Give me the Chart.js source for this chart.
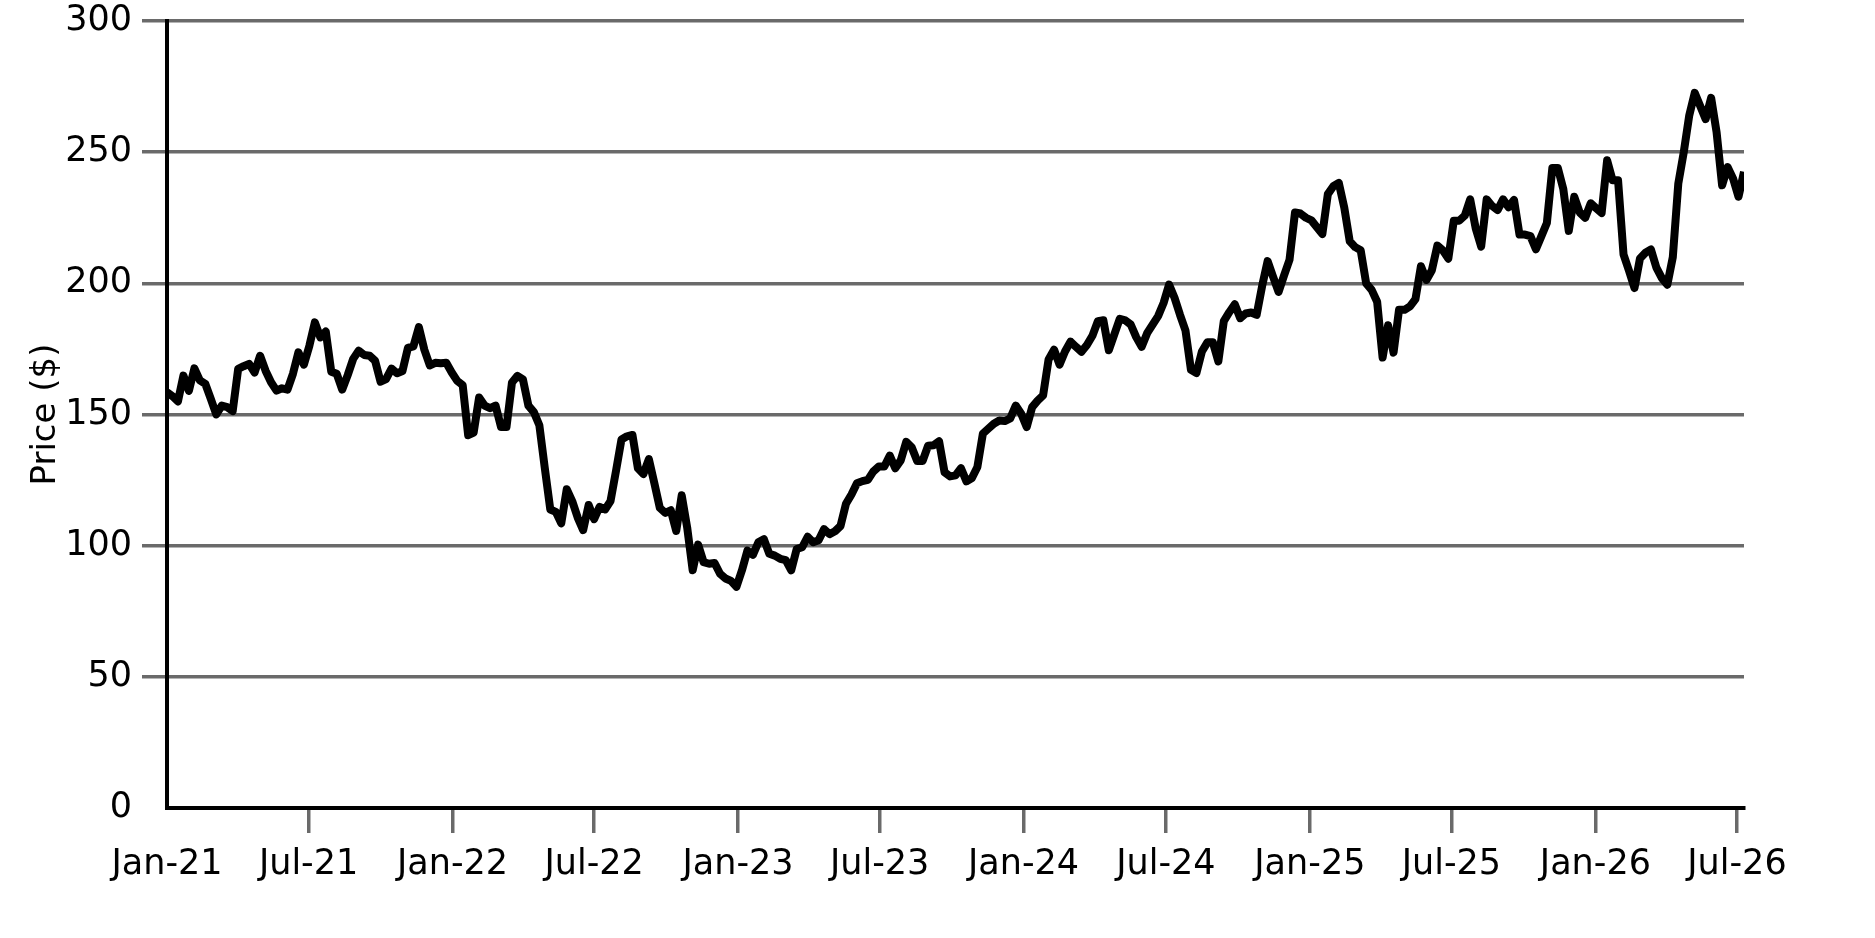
<!DOCTYPE html>
<html>
<head>
<meta charset="utf-8">
<title>Price</title>
<script src="https://cdn.jsdelivr.net/npm/chart.js@4.4.1/dist/chart.umd.min.js"></script>
<style>
  html, body { margin: 0; padding: 0; background: #fff; }
  #wrap { width: 1875px; height: 938px; }
</style>
</head>
<body>
<div id="wrap"><canvas id="priceChart"></canvas></div>
<script>
const START_DATE = '2021-01-01';
const STEP_DAYS = 7;

// weekly price, one value per week from START_DATE
const prices = [
    158.5, 157, 155, 164.8, 159, 167.6, 163, 161.7, 156, 150,
    153.4, 152.8, 151.3, 167.4, 168.4, 169.3, 166, 172.4, 166.7, 162.3,
    159.1, 160, 159.5, 165.5, 173.7, 169, 176.2, 185.1, 179.4, 181.6,
    166.3, 165.5, 159.5, 165, 171.2, 174.3, 172.7, 172.4, 170.5, 162.5,
    163.5, 167.5, 165.7, 166.6, 175.4, 176, 183.3, 174.7, 168.7, 169.7,
    169.5, 169.7, 166, 162.8, 161.2, 142.1, 143.1, 156.5, 153.4, 152.4,
    153.4, 145.2, 145.2, 162.2, 164.7, 163.4, 153.4, 150.9, 145.9, 129.5,
    113.8, 112.9, 108.5, 121.5, 117, 110.7, 105.9, 115.5, 110.1, 114.8,
    113.8, 117, 128.5, 140.5, 141.7, 142.2, 129.5, 127.3, 133, 123.8,
    114.4, 112.5, 113.5, 105.6, 119.2, 106.9, 90.6, 100.4, 93.7, 93.1,
    93.4, 89.3, 87.5, 86.6, 84.3, 90.6, 98.1, 96.5, 101.3, 102.5,
    96.9, 96.2, 95, 94.5, 90.6, 98.7, 99.4, 103.4, 101.3, 102.1,
    106.3, 104.4, 105.5, 107.5, 116, 119.5, 123.8, 124.6, 125.1, 128.3,
    130.2, 130.2, 134.3, 129.5, 132.5, 139.6, 137.5, 132.3, 132.3, 138.1,
    138.3, 139.8, 128, 126.4, 126.8, 129.5, 124.5, 125.8, 130, 142.7,
    144.6, 146.5, 147.7, 147.5, 148.5, 153.4, 150.3, 145.2, 152.8, 155.3,
    157.3, 171, 174.7, 169, 174, 177.8, 175.8, 173.9, 176.5, 180,
    185.6, 185.9, 174.5, 180.5, 186.5, 185.9, 184.3, 179.5, 175.8, 181,
    184.3, 187.5, 192.5, 199.5, 194.5, 188, 182, 167, 165.8, 174,
    177.5, 177.5, 170.2, 185.6, 189, 192, 186.7, 188.5, 188.9, 188,
    199, 208.5, 202.5, 196.7, 203, 209, 227, 226.6, 225, 224,
    221.4, 218.8, 234, 237, 238.3, 228.9, 216, 213.8, 212.6, 200,
    197.5, 193, 171.7, 184, 173.6, 189.9, 189.9, 191.2, 194, 206.5,
    201.3, 205, 214.4, 212.6, 209.4, 223.9, 223.9, 225.8, 232, 221,
    214, 232, 229.5, 227.9, 232, 229, 231.8, 218.6, 218.6, 218,
    213, 218, 223, 244, 244, 236, 220, 233, 227, 225,
    230.5, 228.6, 226.8, 246.9, 239.3, 239.3, 211, 204.8, 198.2, 209.5,
    211.7, 212.9, 206, 202, 199.5, 210, 238, 250, 264, 272.6,
    267.6, 262.6, 270.7, 257.5, 237.4, 244.3, 240, 233, 242.5
];

const tickDates = [
    '2021-01-01', '2021-07-01', '2022-01-01', '2022-07-01', '2023-01-01', '2023-07-01',
    '2024-01-01', '2024-07-01', '2025-01-01', '2025-07-01', '2026-01-01', '2026-07-01'
];
const tickLabels = [
    'Jan-21', 'Jul-21', 'Jan-22', 'Jul-22', 'Jan-23', 'Jul-23',
    'Jan-24', 'Jul-24', 'Jan-25', 'Jul-25', 'Jan-26', 'Jul-26'
];
const yMin = 0;
const yMax = 300;
const yStep = 50;

const DAY_MS = 86400000;
const t0 = Date.parse(START_DATE);
const daysFromStart = d => (Date.parse(d) - t0) / DAY_MS;

const points = prices.map((p, i) => ({ x: i * STEP_DAYS, y: p }));
const tickDays = tickDates.map(daysFromStart);
const lastDay = points[points.length - 1].x;

const GRID = '#6a6a6a';
const CLEAR = 'rgba(0,0,0,0)';

Chart.defaults.font.family = '"DejaVu Sans", sans-serif';
Chart.defaults.color = '#000';

const ctx = document.getElementById('priceChart').getContext('2d');
const priceChart = new Chart(ctx, {
    type: 'line',
    data: {
        datasets: [{
            label: 'Price',
            data: points,
            borderColor: '#000',
            borderWidth: 8,
            borderJoinStyle: 'round',
            pointRadius: 0,
            fill: false,
            tension: 0
        }]
    },
    options: {
        animation: false,
        responsive: true,
        maintainAspectRatio: false,
        devicePixelRatio: 1,
        layout: { padding: { left: 26, right: 131, top: 21, bottom: 0 } },
        plugins: {
            legend: { display: false },
            tooltip: { enabled: false }
        },
        scales: {
            x: {
                type: 'linear',
                min: 0,
                max: lastDay,
                afterBuildTicks: scale => {
                    scale.ticks = tickDays.map(v => ({ value: v }));
                },
                afterFit: scale => {
                    scale.height = 130;
                    scale.paddingLeft = 0;
                    scale.paddingRight = 0;
                },
                ticks: {
                    callback: (value, index) => tickLabels[index],
                    font: { size: 35 },
                    padding: 11,
                    maxRotation: 0,
                    autoSkip: false
                },
                grid: {
                    drawOnChartArea: false,
                    tickLength: 25,
                    lineWidth: 3.5,
                    color: c => (c.index === 0 ? CLEAR : GRID)
                },
                border: { display: true, color: '#000', width: 4 }
            },
            y: {
                min: yMin,
                max: yMax,
                afterFit: scale => {
                    scale.width = 141;
                    scale.paddingTop = 0;
                    scale.paddingBottom = 0;
                },
                ticks: {
                    stepSize: yStep,
                    font: { size: 35 },
                    padding: 10
                },
                grid: {
                    tickLength: 25,
                    lineWidth: 3.5,
                    color: c => (c.tick && c.tick.value === 0 ? CLEAR : GRID)
                },
                border: { display: true, color: '#000', width: 4 },
                title: {
                    display: true,
                    text: 'Price ($)',
                    font: { size: 34 },
                    padding: { top: 0, bottom: 0 }
                }
            }
        }
    }
});
</script>
</body>
</html>
